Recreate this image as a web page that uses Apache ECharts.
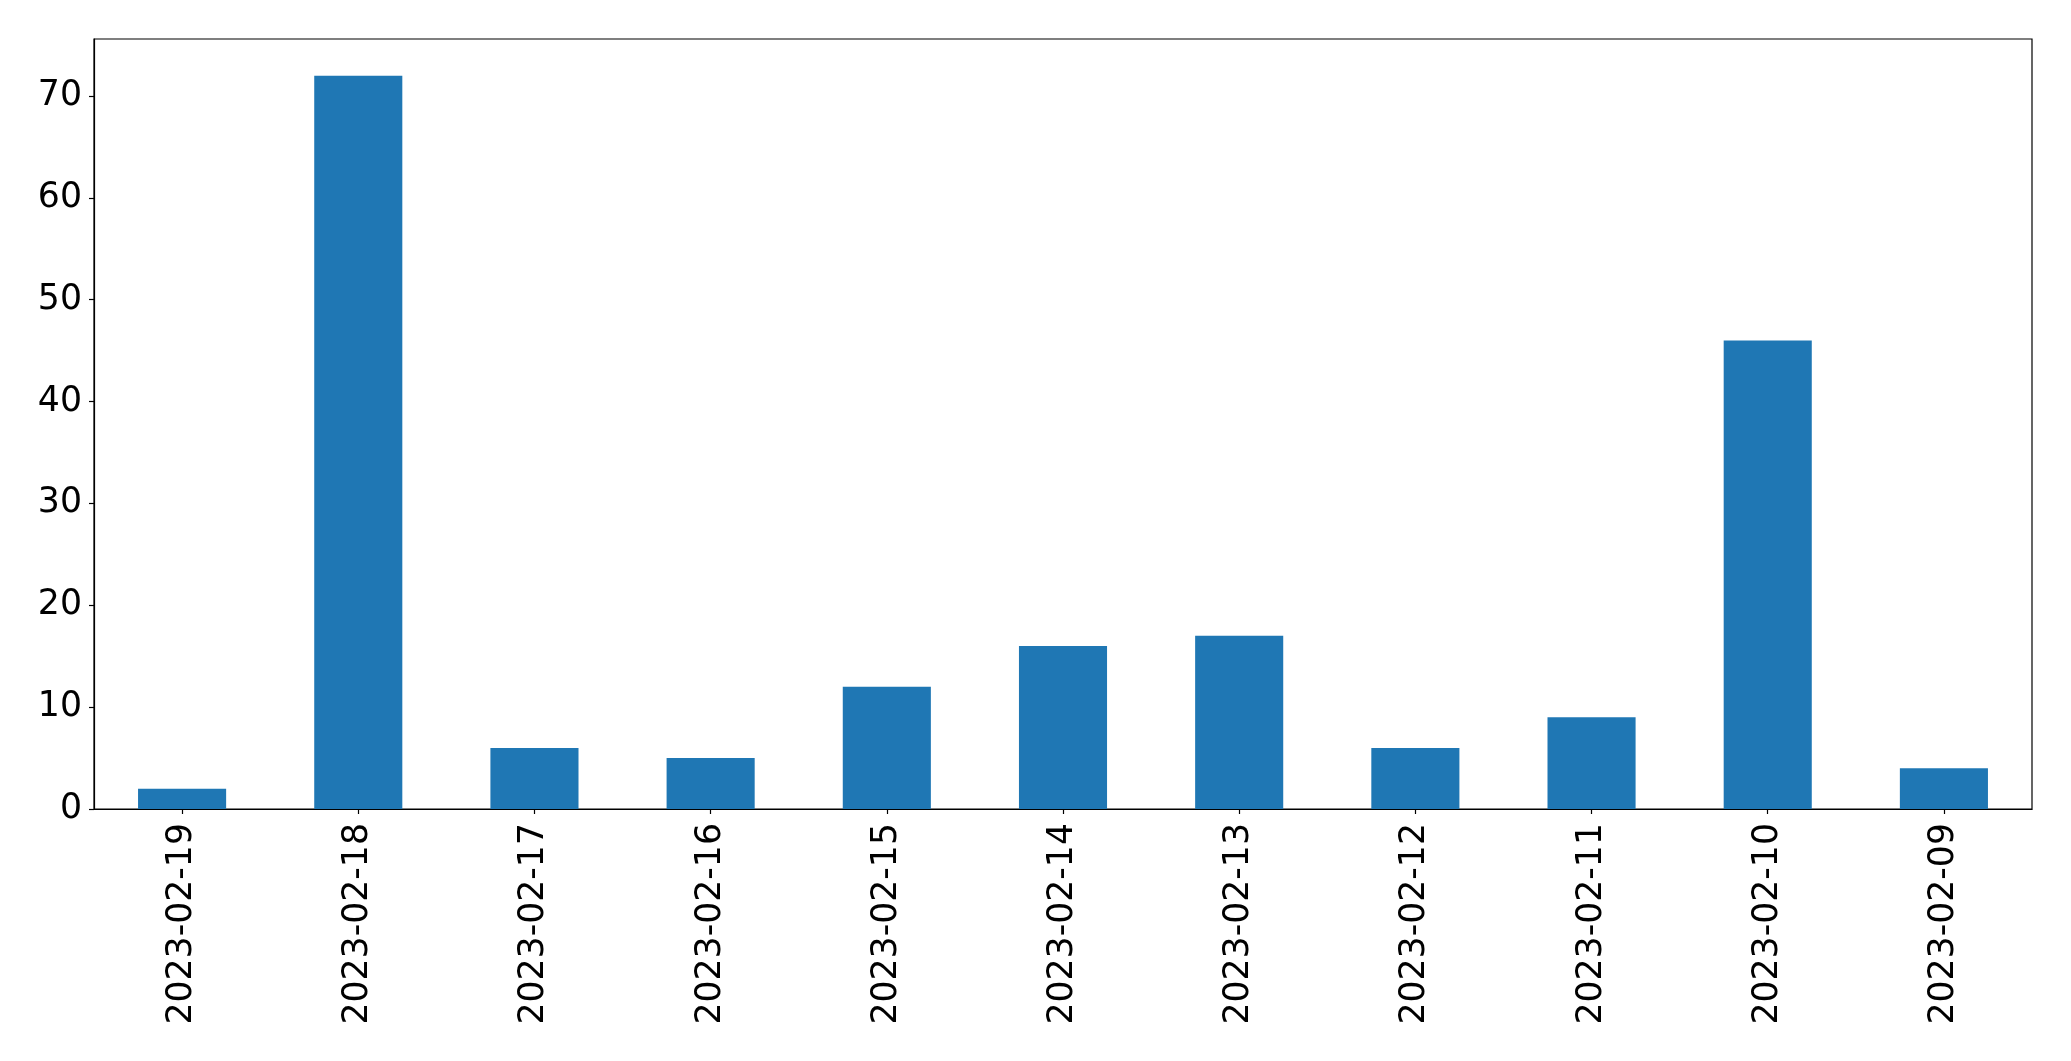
<!DOCTYPE html>
<html><head><meta charset="utf-8">
<script src="https://cdn.jsdelivr.net/npm/echarts@6/dist/echarts.min.js"></script>
<style>html,body{margin:0;padding:0;background:#fff}#c{width:2071px;height:1061px}</style>
</head><body><div id="c"></div>
<script>
const categories = ['2023-02-19','2023-02-18','2023-02-17','2023-02-16','2023-02-15','2023-02-14','2023-02-13','2023-02-12','2023-02-11','2023-02-10','2023-02-09'];
const values = [2, 72, 6, 5, 12, 16, 17, 6, 9, 46, 4];
const yTicks = [0, 10, 20, 30, 40, 50, 60, 70];

const chart = echarts.init(document.getElementById('c'), null, {renderer:'canvas'});
const font = 'DejaVu Sans';
chart.setOption({
  animation: false,
  backgroundColor: '#fff',
  grid: {left: 94, right: 39, top: 39, bottom: 252, show: true, borderColor: '#000', borderWidth: 1.2, backgroundColor: 'transparent'},
  xAxis: {
    type: 'category', data: categories, boundaryGap: true,
    axisLine: {show: true, lineStyle: {color: '#000', width: 1.2}},
    axisTick: {show: true, alignWithLabel: true, length: 5, lineStyle: {color: '#000', width: 1.2}},
    axisLabel: {rotate: 90, color: '#000', fontFamily: font, fontSize: 34.7, margin: 14, interval: 0}
  },
  yAxis: {
    type: 'value', min: 0, max: 75.6, interval: 10,
    splitLine: {show: false},
    axisLine: {show: true, lineStyle: {color: '#000', width: 1.2}},
    axisTick: {show: true, length: 5, lineStyle: {color: '#000', width: 1.2}},
    axisLabel: {color: '#000', fontFamily: font, fontSize: 34.7, margin: 12, showMaxLabel: false,
      formatter: v => yTicks.includes(v) ? String(v) : ''}
  },
  series: [{type: 'bar', data: values, barWidth: '50%', itemStyle: {color: '#1f77b4'}}]
});
</script></body></html>
